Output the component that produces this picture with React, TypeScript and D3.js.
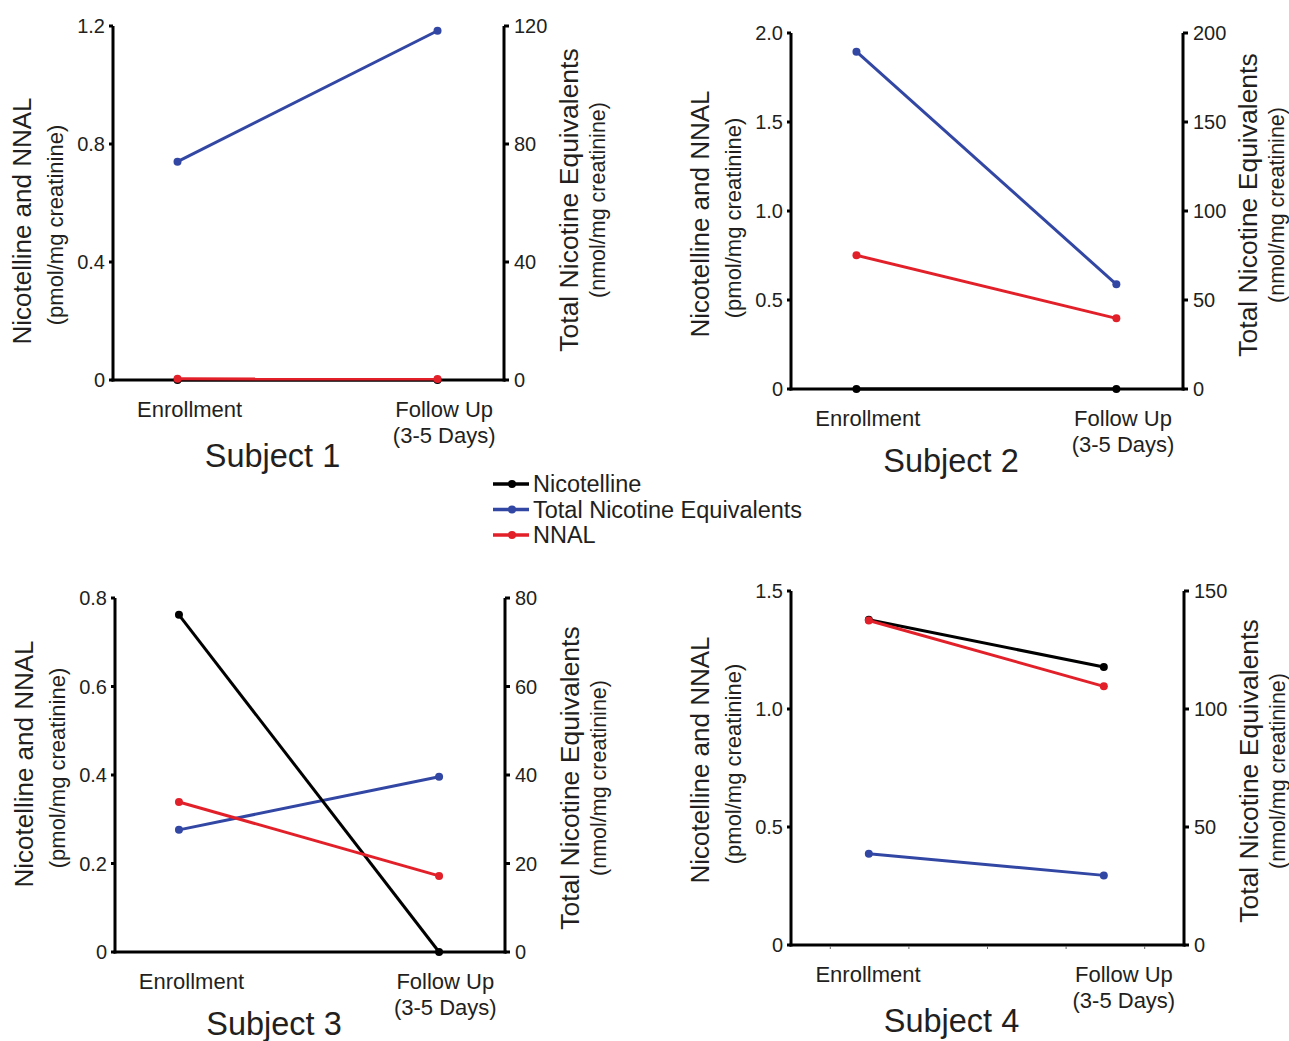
import * as d3 from "d3";

const subjects = ["Subject 1", "Subject 2", "Subject 3", "Subject 4"];
const timepoints = ["Enrollment", "Follow Up"];
const timepointSub = ["", "(3-5 Days)"];

// values per subject: [enrollment, follow up]
const nicotelline = [[0, 0], [0, 0], [0.762, 0], [1.378, 1.178]];
const nnal = [[0.004, 0.003], [0.751, 0.397], [0.339, 0.172], [1.375, 1.096]];
const totalNicEq = [[74, 118.4], [189.5, 58.8], [27.6, 39.6], [38.7, 29.5]];

const leftMax = [1.2, 2.0, 0.8, 1.5];
const rightMax = [120, 200, 80, 150];
const leftTicks = [
  [0, 0.4, 0.8, 1.2],
  [0, 0.5, 1.0, 1.5, 2.0],
  [0, 0.2, 0.4, 0.6, 0.8],
  [0, 0.5, 1.0, 1.5],
];
const leftTickLabels = [
  ["0", "0.4", "0.8", "1.2"],
  ["0", "0.5", "1.0", "1.5", "2.0"],
  ["0", "0.2", "0.4", "0.6", "0.8"],
  ["0", "0.5", "1.0", "1.5"],
];
const rightTicks = [
  [0, 40, 80, 120],
  [0, 50, 100, 150, 200],
  [0, 20, 40, 60, 80],
  [0, 50, 100, 150],
];

const legendItems = ["Nicotelline", "Total Nicotine Equivalents", "NNAL"];

const BLACK = "#000000";
const BLUE = "#3246a4";
const RED = "#e2202a";
const TEXT = "#231f20";
const FONT = "'Liberation Sans', Arial, Helvetica, sans-serif";

// panel layout
const panels = [
  { left: 113, right: 504, top: 26, bottom: 380, px: [0.165, 0.83], lty: 221, rty: 200, sy: 467, minor: false },
  { left: 791, right: 1183, top: 33, bottom: 389, px: [0.167, 0.83], lty: 214, rty: 205, sy: 472, minor: false },
  { left: 115, right: 505, top: 598, bottom: 952, px: [0.164, 0.831], lty: 764, rty: 778, sy: 1035, minor: false },
  { left: 791, right: 1184, top: 591, bottom: 945, px: [0.198, 0.796], lty: 760, rty: 771, sy: 1032, minor: true },
];
const minorTicks = [0.1, 0.3, 0.5, 0.7, 0.9];
const labelPos = [0.196, 0.847];

function Panel({ i }: { i: number }) {
  const p = panels[i];
  const x = d3.scaleLinear().domain([0, 1]).range([p.left, p.right]);
  const yL = d3.scaleLinear().domain([0, leftMax[i]]).range([p.bottom, p.top]);
  const yR = d3.scaleLinear().domain([0, rightMax[i]]).range([p.bottom, p.top]);

  const lineL = d3.line<number>().x((_, j) => x(p.px[j])).y((d) => yL(d));
  const lineR = d3.line<number>().x((_, j) => x(p.px[j])).y((d) => yR(d));

  const series = [
    { data: totalNicEq[i], line: lineR, y: yR, color: BLUE },
    { data: nicotelline[i], line: lineL, y: yL, color: BLACK },
    { data: nnal[i], line: lineL, y: yL, color: RED },
  ];

  const midX = (p.left + p.right) / 2;

  return (
    <g>
      {/* axes */}
      <line x1={p.left} x2={p.left} y1={p.top} y2={p.bottom + 1.5} stroke="#000" strokeWidth={3} />
      <line x1={p.right} x2={p.right} y1={p.top} y2={p.bottom + 1.5} stroke="#000" strokeWidth={3} />
      <line x1={p.left - 1.5} x2={p.right + 1.5} y1={p.bottom} y2={p.bottom} stroke="#000" strokeWidth={3} />
      {p.minor &&
        minorTicks.map((t) => (
          <line key={t} x1={x(t)} x2={x(t)} y1={p.bottom + 1} y2={p.bottom + 4} stroke="#666" strokeWidth={1} />
        ))}
      {leftTicks[i].map((t, k) => (
        <g key={"l" + k}>
          <line x1={p.left - 4} x2={p.left} y1={yL(t)} y2={yL(t)} stroke="#000" strokeWidth={3} />
          <text x={p.left - 8} y={yL(t)} dy="0.35em" textAnchor="end" fontSize={20} fill={TEXT}>
            {leftTickLabels[i][k]}
          </text>
        </g>
      ))}
      {rightTicks[i].map((t, k) => (
        <g key={"r" + k}>
          <line x1={p.right} x2={p.right + 5} y1={yR(t)} y2={yR(t)} stroke="#000" strokeWidth={3} />
          <text x={p.right + 10} y={yR(t)} dy="0.35em" textAnchor="start" fontSize={20} fill={TEXT}>
            {t}
          </text>
        </g>
      ))}

      {/* axis titles */}
      <g transform={`translate(${p.left - 91},${p.lty}) rotate(-90)`}>
        <text textAnchor="middle" dy="0.35em" fontSize={26} fill={TEXT}>Nicotelline and NNAL</text>
      </g>
      <g transform={`translate(${p.left - 58},${p.lty + 4}) rotate(-90)`}>
        <text textAnchor="middle" dy="0.35em" fontSize={22} fill={TEXT}>(pmol/mg creatinine)</text>
      </g>
      <g transform={`translate(${p.right + 65},${p.rty}) rotate(-90)`}>
        <text textAnchor="middle" dy="0.35em" fontSize={26.5} fill={TEXT}>Total Nicotine Equivalents</text>
      </g>
      <g transform={`translate(${p.right + 93},${p.rty}) rotate(-90)`}>
        <text textAnchor="middle" dy="0.35em" fontSize={21.5} fill={TEXT}>(nmol/mg creatinine)</text>
      </g>

      {/* x labels */}
      {timepoints.map((t, j) => (
        <g key={t}>
          <text x={x(labelPos[j])} y={p.bottom + 37} textAnchor="middle" fontSize={22} fill={TEXT}>{t}</text>
          {timepointSub[j] && (
            <text x={x(labelPos[j])} y={p.bottom + 63} textAnchor="middle" fontSize={22} fill={TEXT}>
              {timepointSub[j]}
            </text>
          )}
        </g>
      ))}
      <text x={midX - 36} y={p.sy} textAnchor="middle" fontSize={32.5} fill={TEXT}>
        {subjects[i]}
      </text>

      {/* data */}
      {series.map((s, k) => (
        <g key={k}>
          <path d={s.line(s.data) || ""} fill="none" stroke={s.color} strokeWidth={3} />
          {s.data.map((v, j) => (
            <circle key={j} cx={x(p.px[j])} cy={s.y(v)} r={4} fill={s.color} />
          ))}
        </g>
      ))}
    </g>
  );
}

function Legend() {
  const colors = [BLACK, BLUE, RED];
  const y = d3.scaleLinear().domain([0, 2]).range([484, 535]);
  return (
    <g>
      {legendItems.map((name, k) => (
        <g key={name}>
          <line x1={493} x2={529} y1={y(k)} y2={y(k)} stroke={colors[k]} strokeWidth={3.5} />
          <circle cx={512} cy={y(k)} r={4} fill={colors[k]} />
          <text x={533} y={y(k)} dy="0.35em" fontSize={23.5} fill={TEXT}>{name}</text>
        </g>
      ))}
    </g>
  );
}

export default function App() {
  return (
    <svg
      width={1289}
      height={1041}
      style={{ position: "absolute", left: 0, top: 0, background: "#fff" }}
      fontFamily={FONT}
    >
      {subjects.map((_, i) => (
        <Panel key={i} i={i} />
      ))}
      <Legend />
    </svg>
  );
}
